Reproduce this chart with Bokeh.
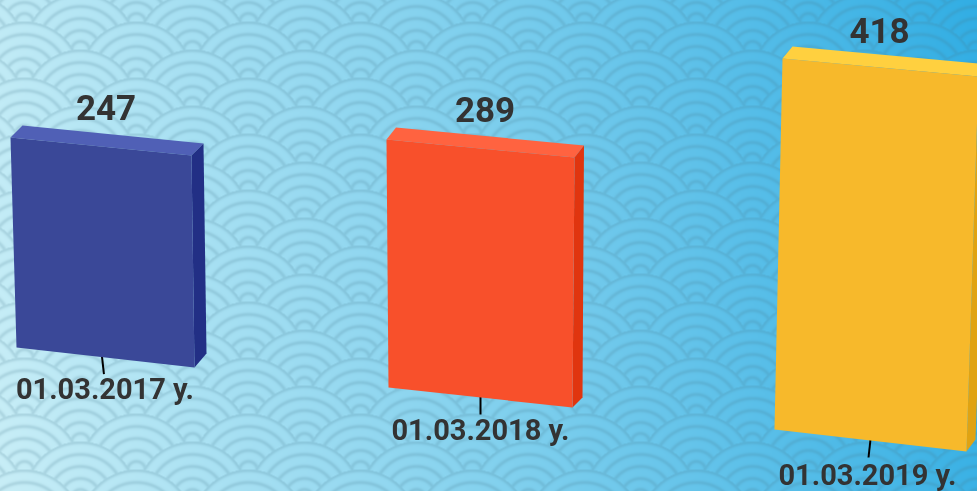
import numpy as np
from bokeh.core.properties import value
from bokeh.embed import file_html
from bokeh.models import Range1d
from bokeh.plotting import figure
from bokeh.resources import INLINE

# ---- chart data ----
categories = ["01.03.2017 y.", "01.03.2018 y.", "01.03.2019 y."]
values = [247, 289, 418]

# ---- styling / projection of each 3D box ----
front_colors = ["#3A4898", "#F8502B", "#F7B92B"]
top_colors = ["#5060B6", "#FF6340", "#FFD03F"]
side_colors = ["#222F85", "#E0350F", "#E0A312"]
anchors = [(16, 347), (388, 387), (774, 429)]        # front bottom-left corner on screen
across = [(178, 20), (184, 20), (192, 22)]           # front bottom edge
unit_up_left = [(-6 / 247, -210 / 247), (-2 / 289, -248 / 289), (8 / 418, -371 / 418)]
unit_up_right = [(-3 / 247, -212 / 247), (2 / 289, -250 / 289), (12 / 418, -375 / 418)]
depth_top = [(12, -12), (9.5, -12), (10, -12)]
depth_bottom = [(12, -14), (10, -10), (9, -12)]
stem_pos = [0.48, 0.5, 0.5]
stem_lean = [2, 0, -2]
value_shift = [(-7, -27), (-5, -27), (-11, -25)]
date_shift = [(3, 32), (0, 32), (-3, 34)]
W, H = 977, 491
PAD = 4


def background():
    h, w = H + 2 * PAD, W + 2 * PAD
    yy, xx = np.mgrid[0:h, 0:w]
    xx = xx + 0.5 - PAD
    yy = yy + 0.5 - PAD
    t = np.clip((xx + 0.12 * (H - yy)) / (W + 0.12 * H), 0, 1)[..., None]
    c0, c1, c2 = np.array([200, 238, 247.0]), np.array([128, 208, 238.0]), np.array([50, 174, 228.0])
    rgb = np.where(t < 0.5, c0 + (c1 - c0) * t * 2, c1 + (c2 - c1) * (t - 0.5) * 2)
    R, dx, dy = 56.0, 112.0, 28.0
    r = np.full((h, w), np.inf)
    for j in range(-1, int(H / dy) + 6):
        cy = 22 + 56 + (j - 2) * dy
        ofs = 24 if (j % 2 == 0) else 80
        for i in range(-1, int(W / dx) + 2):
            cx = ofs + i * dx
            d = np.hypot(xx - cx, yy - cy)
            m = d <= R + 1
            r[m] = d[m]
    g = np.zeros((h, w))
    for rk in (56, 44, 32, 20, 9):
        g = np.maximum(g, np.exp(-((r - rk) / 1.9) ** 2))
    rgb = rgb + (np.array([70, 120, 140.0]) - rgb) * (0.2 * g)[..., None]
    img = np.zeros((h, w), dtype=np.uint32)
    view = img.view(dtype=np.uint8).reshape((h, w, 4))
    view[..., :3] = np.clip(rgb, 0, 255).astype(np.uint8)
    view[..., 3] = 255
    return img


p = figure(width=W + 2, height=H + 2, x_range=Range1d(-1, W + 1), y_range=Range1d(H + 1, -1),
           output_backend="svg", toolbar_location=None, min_border=0,
           x_axis_type=None, y_axis_type=None)
p.grid.visible = False
p.outline_line_color = None
p.styles = {"position": "fixed", "left": "-1px", "top": "-1px"}
p.image_rgba(image=[background()], x=-PAD, y=-PAD, dw=W + 2 * PAD, dh=H + 2 * PAD)

for i, v in enumerate(values):
    ax, ay = anchors[i]
    cx, cy = across[i]
    bl = (ax, ay)
    br = (ax + cx, ay + cy)
    tl = (ax + unit_up_left[i][0] * v, ay + unit_up_left[i][1] * v)
    tr = (br[0] + unit_up_right[i][0] * v, br[1] + unit_up_right[i][1] * v)
    dtx, dty = depth_top[i]
    dbx, dby = depth_bottom[i]
    tlb = (tl[0] + dtx, tl[1] + dty)
    trb = (tr[0] + dtx, tr[1] + dty)
    brb = (br[0] + dbx, br[1] + dby)

    # stem between box and its label
    sx = ax + cx * stem_pos[i]
    sy = ay + cy * stem_pos[i]
    p.line([sx, sx + stem_lean[i]], [sy - 1, sy + 17], line_color="#000000", line_width=2)

    for pts, col in (((tl, tr, trb, tlb), top_colors[i]),
                     ((tr, br, brb, trb), side_colors[i]),
                     ((tl, tr, br, bl), front_colors[i])):
        p.patch([q[0] for q in pts], [q[1] for q in pts], fill_color=col, line_color=None)

    p.text(x=[(tlb[0] + trb[0]) / 2 + value_shift[i][0]], y=[(tlb[1] + trb[1]) / 2 + value_shift[i][1]],
           text=[str(v)], text_font=value("Roboto"), text_font_style="bold",
           text_font_size=value("35px"), text_color="#333333",
           text_align="center", text_baseline="middle")
    p.text(x=[sx + date_shift[i][0]], y=[sy + date_shift[i][1]], text=[categories[i]],
           text_font=value("Roboto"), text_font_style="bold",
           text_font_size=value("29px"), text_color="#333333",
           text_align="center", text_baseline="middle")

open("out.html", "w").write(file_html(p, INLINE))
